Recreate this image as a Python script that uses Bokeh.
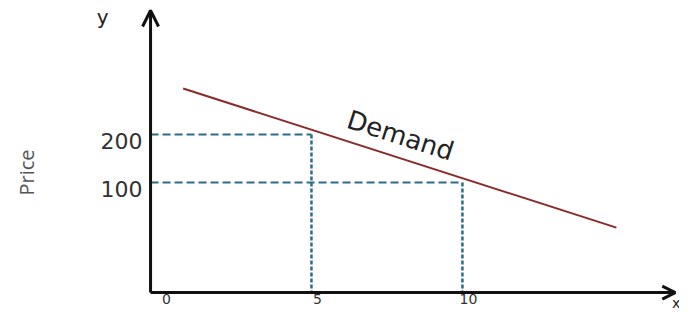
from bokeh.plotting import figure
from bokeh.models import Range1d, Arrow, OpenHead, Label
from bokeh.core.properties import value
from bokeh.embed import file_html
from bokeh.resources import INLINE

# ---- data ----
quantity_ticks = [0, 5, 10]
quantity_labels = ["0", "5", "10"]
price_ticks = [100, 200]
price_labels = ["100", "200"]
demand_q = [0.75, 15.1]
demand_p = [296, 6]
point_q = [5, 10]
point_p = [200, 100]

# ---- view ----
x_start, x_end = -5.30, 17.19
y_start, y_end = -168.7, 479.2
y_axis_x = -0.33          # where the price axis is drawn
x_axis_y = -129.2         # where the quantity axis is drawn
x_arrow_end = 17.05
y_arrow_end = 458.3

AX = "#111111"
DASH = "#2a6e88"

p = figure(width=679, height=311, output_backend="svg", toolbar_location=None,
           x_range=Range1d(x_start, x_end), y_range=Range1d(y_start, y_end),
           x_axis_type=None, y_axis_type=None, min_border=0)
p.outline_line_color = None
p.grid.visible = False
p.background_fill_color = "white"
p.border_fill_color = "white"

# axes with arrow heads
p.add_layout(Arrow(end=OpenHead(size=16, line_width=3, line_color=AX),
                   x_start=y_axis_x, y_start=x_axis_y, x_end=y_axis_x, y_end=y_arrow_end,
                   line_width=3, line_color=AX))
p.add_layout(Arrow(end=OpenHead(size=13, line_width=3, line_color=AX),
                   x_start=y_axis_x, y_start=x_axis_y, x_end=x_arrow_end, y_end=x_axis_y,
                   line_width=3, line_color=AX))

# dashed guide lines
p.segment(x0=[y_axis_x] * len(point_p), y0=point_p, x1=point_q, y1=point_p,
          line_color=DASH, line_width=2, line_dash="8 4")
p.segment(x0=point_q, y0=point_p, x1=point_q, y1=[x_axis_y] * len(point_q),
          line_color=DASH, line_width=2.5, line_dash="4 2")

# demand curve
p.line(demand_q, demand_p, line_color="#8a2b2b", line_width=2)

# tick labels
p.text(x=[y_axis_x] * len(price_ticks), y=price_ticks, text=price_labels,
       x_offset=-8, y_offset=6, text_align="right", text_baseline="middle",
       text_font=value("DejaVu Sans"), text_font_size="22px", text_color="#333333")
p.text(x=quantity_ticks, y=[x_axis_y] * len(quantity_ticks), text=quantity_labels,
       x_offset=6, y_offset=1, text_align="center", text_baseline="top",
       text_font=value("DejaVu Sans"), text_font_size="14px", text_color="#333333")

# texts
p.add_layout(Label(x=-4.44, y=121, text="Price", angle=1.5708, text_align="center",
                   text_baseline="middle", text_font="Open Sans", text_font_size="20px",
                   text_color="#555555"))
p.add_layout(Label(x=7.95, y=198, text="Demand", angle=-0.311, text_align="center",
                   text_baseline="middle", text_font="DejaVu Sans", text_font_size="26px",
                   text_color="#222222"))
p.add_layout(Label(x=-1.92, y=444, text="y", text_align="center", text_baseline="middle",
                   text_font="DejaVu Sans", text_font_size="20px", text_color="#222222"))
p.add_layout(Label(x=17.08, y=-167.5, text="x", text_align="center", text_baseline="bottom",
                   text_font="DejaVu Sans", text_font_size="14px", text_color="#222222"))

open("out.html", "w").write(file_html(p, INLINE))
